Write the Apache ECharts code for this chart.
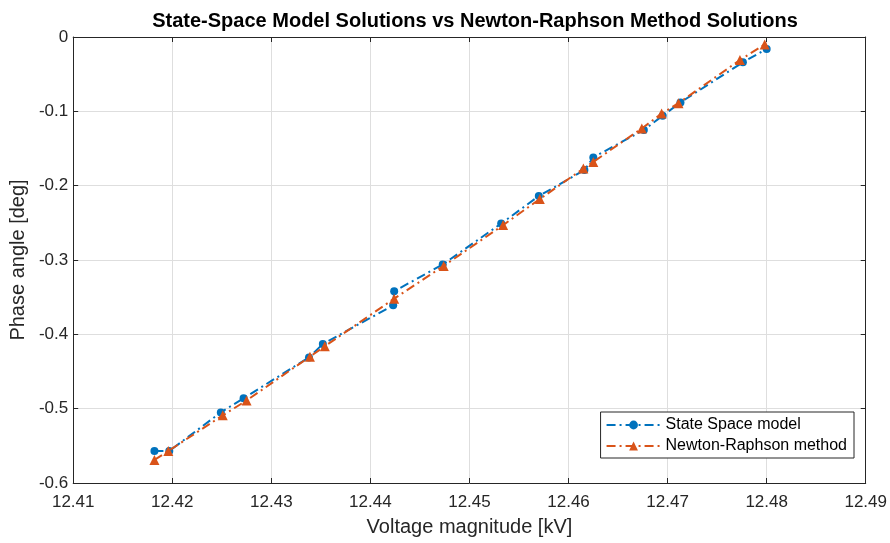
<!DOCTYPE html>
<html>
<head>
<meta charset="utf-8">
<script src="https://cdn.jsdelivr.net/npm/echarts@6/dist/echarts.min.js"></script>
<style>
html,body{margin:0;padding:0;background:#fff;}
#chart{width:890px;height:543px;}
</style>
</head>
<body>
<div id="chart"></div>
<script>
const titleText = 'State-Space Model Solutions vs Newton-Raphson Method Solutions';
const xName = 'Voltage magnitude [kV]';
const yName = 'Phase angle [deg]';
const seriesNames = ['State Space model', 'Newton-Raphson method'];

const ssVoltage = [12.4182, 12.4197, 12.4249, 12.4272, 12.4338, 12.4352, 12.4423, 12.4424, 12.4473, 12.4532, 12.4570, 12.4616, 12.4625, 12.4676, 12.4695, 12.4713, 12.4776, 12.4800];
const ssAngle   = [-0.557, -0.557, -0.505, -0.486, -0.431, -0.413, -0.361, -0.342, -0.306, -0.251, -0.214, -0.179, -0.162, -0.125, -0.106, -0.088, -0.034, -0.016];

const nrVoltage = [12.4182, 12.4196, 12.4251, 12.4275, 12.4339, 12.4354, 12.4424, 12.4474, 12.4534, 12.4571, 12.4615, 12.4625, 12.4674, 12.4694, 12.4711, 12.4773, 12.4798];
const nrAngle   = [-0.569, -0.557, -0.509, -0.489, -0.430, -0.416, -0.352, -0.308, -0.253, -0.218, -0.177, -0.168, -0.123, -0.103, -0.089, -0.031, -0.010];

const xMin = 12.41, xMax = 12.49, xStep = 0.01;
const yMin = -0.6, yMax = 0, yStep = 0.1;

const pair = (xs, ys) => xs.map((v, i) => [v, ys[i]]);
const font = 'Liberation Sans, Arial, Helvetica, sans-serif';
const axisColor = '#262626';
const blue = '#0072BD', orange = '#D95319';
const dash = [9, 4, 2, 4];

const chart = echarts.init(document.getElementById('chart'), null, {renderer: 'canvas'});
const baseX = {
  type: 'value', min: xMin, max: xMax, interval: xStep,
  axisLine: {show: true, onZero: false, lineStyle: {color: axisColor, width: 1}},
  axisTick: {show: true, inside: true, length: 5, lineStyle: {color: axisColor}},
};
const baseY = {
  type: 'value', min: yMin, max: yMax, interval: yStep,
  axisLine: {show: true, onZero: false, lineStyle: {color: axisColor, width: 1}},
  axisTick: {show: true, inside: true, length: 5, lineStyle: {color: axisColor}},
};
chart.setOption({
  animation: false,
  backgroundColor: '#fff',
  title: {
    text: titleText, left: 470, textAlign: 'center', top: 6,
    textStyle: {fontFamily: font, fontSize: 20, fontWeight: 'bold', color: '#000'}
  },
  grid: {left: 73, right: 22, top: 37, bottom: 60, containLabel: false},
  legend: {
    data: seriesNames,
    orient: 'vertical',
    right: 36, top: 412,
    itemWidth: 54, itemHeight: 11, itemGap: 5,
    padding: [5, 7, 4, 5],
    backgroundColor: '#fff',
    borderColor: '#262626', borderWidth: 1, borderRadius: 0,
    textStyle: {fontFamily: font, fontSize: 16, color: '#000'}
  },
  xAxis: [
    Object.assign({}, baseX, {
      position: 'bottom',
      name: xName, nameLocation: 'middle', nameGap: 34,
      nameTextStyle: {fontFamily: font, fontSize: 20, color: axisColor},
      axisLabel: {fontFamily: font, fontSize: 17, color: axisColor, margin: 11},
      splitLine: {show: true, lineStyle: {color: '#dedede', width: 1}}
    }),
    Object.assign({}, baseX, {
      position: 'top',
      axisLabel: {show: false}, splitLine: {show: false}
    })
  ],
  yAxis: [
    Object.assign({}, baseY, {
      position: 'left',
      name: yName, nameLocation: 'middle', nameGap: 45, nameRotate: 90,
      nameTextStyle: {fontFamily: font, fontSize: 20, color: axisColor},
      axisLabel: {fontFamily: font, fontSize: 17, color: axisColor, margin: 5},
      splitLine: {show: true, lineStyle: {color: '#dedede', width: 1}}
    }),
    Object.assign({}, baseY, {
      position: 'right',
      axisLabel: {show: false}, splitLine: {show: false}
    })
  ],
  series: [
    {
      name: seriesNames[0], type: 'line', xAxisIndex: 0, yAxisIndex: 0,
      data: pair(ssVoltage, ssAngle),
      symbol: 'circle', symbolSize: 8, showAllSymbol: true,
      lineStyle: {color: blue, width: 2, type: dash},
      itemStyle: {color: blue, borderWidth: 0},
      z: 3
    },
    {
      name: seriesNames[1], type: 'line', xAxisIndex: 0, yAxisIndex: 0,
      data: pair(nrVoltage, nrAngle),
      symbol: 'triangle', symbolSize: 10, showAllSymbol: true,
      lineStyle: {color: orange, width: 2, type: dash},
      itemStyle: {color: orange, borderWidth: 0},
      z: 4
    }
  ]
});
</script>
</body>
</html>
